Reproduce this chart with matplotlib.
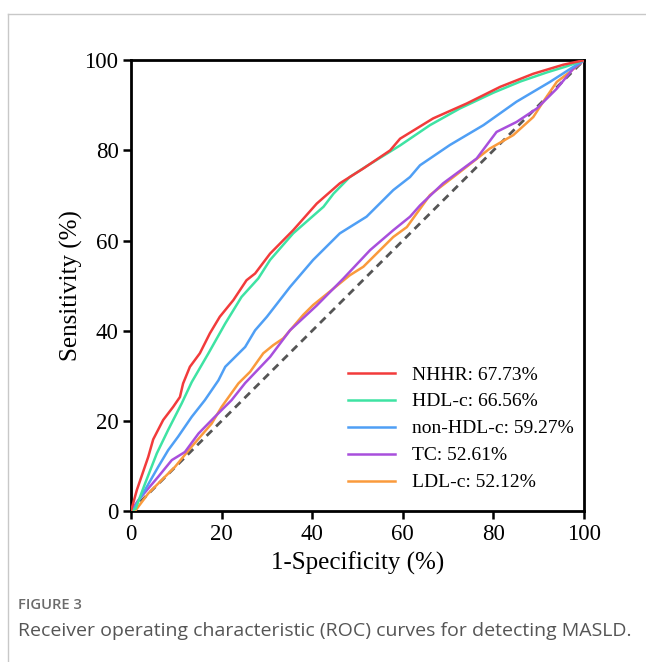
import matplotlib
matplotlib.use("Agg")
import matplotlib.pyplot as plt
from matplotlib.lines import Line2D

# ROC curve points (1-specificity %, sensitivity %)
nhhr_x = [0, 1.3, 3.8, 4.9, 7.1, 9.3, 10.8, 11.5, 13, 15.2, 17.4, 19.6, 22.6, 25.5, 27.4,
          30.7, 35.8, 41, 46.1, 51.3, 57.2, 59.4, 66.7, 74.1, 81.5, 88.8, 95.4, 100]
nhhr_y = [0, 4.7, 12, 15.9, 20.2, 23.1, 25.3, 28.3, 32, 35, 39.4, 43.1, 46.8, 51.2, 52.7,
          57.1, 62.3, 68.2, 72.7, 76, 80, 82.6, 87.1, 90.4, 94.1, 97, 99, 100]

hdl_x = [0, 1, 3.1, 5.7, 8.2, 11.2, 13.4, 17.1, 20.8, 24.4, 28.1, 30.7, 35.8, 42.5, 44.7,
         48.3, 52, 59.4, 66, 72.6, 80, 86, 91.8, 96, 100]
hdl_y = [0, 0.5, 6.1, 12.8, 18, 23.9, 28.6, 35, 41.6, 47.5, 51.6, 55.7, 61.6, 67.5, 70.4,
         74.1, 76.5, 81.1, 85.6, 89.3, 92.8, 95.3, 97.3, 98.6, 100]

nonhdl_x = [0, 0.9, 3.1, 6, 8.2, 10.4, 13.4, 16.3, 19.3, 20.8, 25.2, 27.4, 30, 35.1, 40.2,
            46.1, 52, 57.9, 61.6, 63.8, 70.4, 77.8, 85.1, 92.5, 97.6, 100]
nonhdl_y = [0, 1, 4.7, 9.8, 13.5, 16.5, 20.9, 24.6, 29, 32, 36.4, 40.1, 43.1, 49.7, 55.7,
            61.6, 65.3, 71.2, 74.1, 76.7, 81.2, 85.6, 90.8, 95.2, 98.5, 100]

tc_x = [0, 1.6, 6, 9, 11.9, 14.9, 18.5, 22.2, 25.2, 30.7, 35.1, 41, 46.9, 52.8, 57.9,
        61.6, 63.8, 68.9, 76.3, 80.7, 85.1, 89.6, 94, 97.6, 100]
tc_y = [0, 2.4, 7.6, 11.3, 13.1, 17.2, 20.9, 24.6, 28.4, 34.2, 40.1, 45.6, 51.6, 57.9, 62.3,
        65.3, 67.8, 72.7, 78.2, 84.1, 86.3, 89.3, 93.7, 98.1, 100]

ldl_x = [0, 0.9, 3.8, 9.7, 13.4, 17.8, 20, 23.7, 26.3, 29.2, 31.4, 33.6, 35.8, 38, 40.2,
         43.9, 48.3, 51.3, 57.9, 60.9, 66, 72.6, 79.2, 84.4, 88.8, 91, 94, 97, 100]
ldl_y = [0, 0, 3.9, 9.8, 14.3, 19.4, 23.1, 28.3, 30.9, 35, 36.8, 38.3, 40.9, 43.5, 45.7,
         48.7, 52.3, 54.2, 60.8, 63, 70.1, 75.2, 80.4, 83.4, 87.4, 90.8, 95.2, 97.5, 100]

labels = ["NHHR: 67.73%", "HDL-c: 66.56%", "non-HDL-c: 59.27%", "TC: 52.61%", "LDL-c: 52.12%"]
colors = ["#f23b3b", "#3ee3a3", "#4f9ff5", "#a84fdc", "#fa9a3c"]
ticks = [0, 20, 40, 60, 80, 100]

serif = "Liberation Serif"

fig = plt.figure(figsize=(6.46, 6.62), dpi=100)
ax = fig.add_axes([0.2028, 0.228, 0.7012, 0.681])

ax.plot([0, 100], [0, 100], color="#555555", lw=2.0, ls=(0, (2.8, 2.0)), zorder=1)
series = [(nhhr_x, nhhr_y), (hdl_x, hdl_y), (nonhdl_x, nonhdl_y), (tc_x, tc_y), (ldl_x, ldl_y)]
handles = []
for i in range(len(series) - 1, -1, -1):
    xs, ys = series[i]
    ln, = ax.plot(xs, ys, color=colors[i], lw=1.8, label=labels[i], zorder=2 + (5 - i))
    handles.insert(0, ln)

ax.set_xlim(0, 100)
ax.set_ylim(0, 100)
ax.set_xticks(ticks)
ax.set_yticks(ticks)
for s in ax.spines.values():
    s.set_linewidth(2.0)
ax.tick_params(direction="out", length=6, width=1.8, labelsize=16.5, pad=3)
for lab in ax.get_xticklabels() + ax.get_yticklabels():
    lab.set_family(serif)

ax.set_xlabel("1-Specificity (%)", fontsize=18, family=serif, labelpad=5)
ax.set_ylabel("Sensitivity (%)", fontsize=18, family=serif, labelpad=1)

leg = ax.legend(handles=handles, labels=labels, loc="lower left",
                bbox_to_anchor=(0.44, 0.005), frameon=False,
                prop={"family": serif, "size": 14}, handlelength=2.45,
                handletextpad=0.85, labelspacing=0.48)

# page frame and caption
fig.add_artist(Line2D([8 / 646, 1], [1 - 14 / 662, 1 - 14 / 662], transform=fig.transFigure,
                      color="#c8c8c8", lw=1))
fig.add_artist(Line2D([8 / 646, 8 / 646], [0, 1 - 14 / 662], transform=fig.transFigure,
                      color="#c8c8c8", lw=1))
fig.text(18 / 646, 1 - 605 / 662, "FIGURE 3", family="Open Sans", fontsize=10.6,
         weight="semibold", color="#6b6b6b", va="center")
fig.text(18 / 646, 1 - 631 / 662,
         "Receiver operating characteristic (ROC) curves for detecting MASLD.",
         family="Open Sans", fontsize=14, color="#555555", va="center")

fig.savefig("out.png", dpi=100)
